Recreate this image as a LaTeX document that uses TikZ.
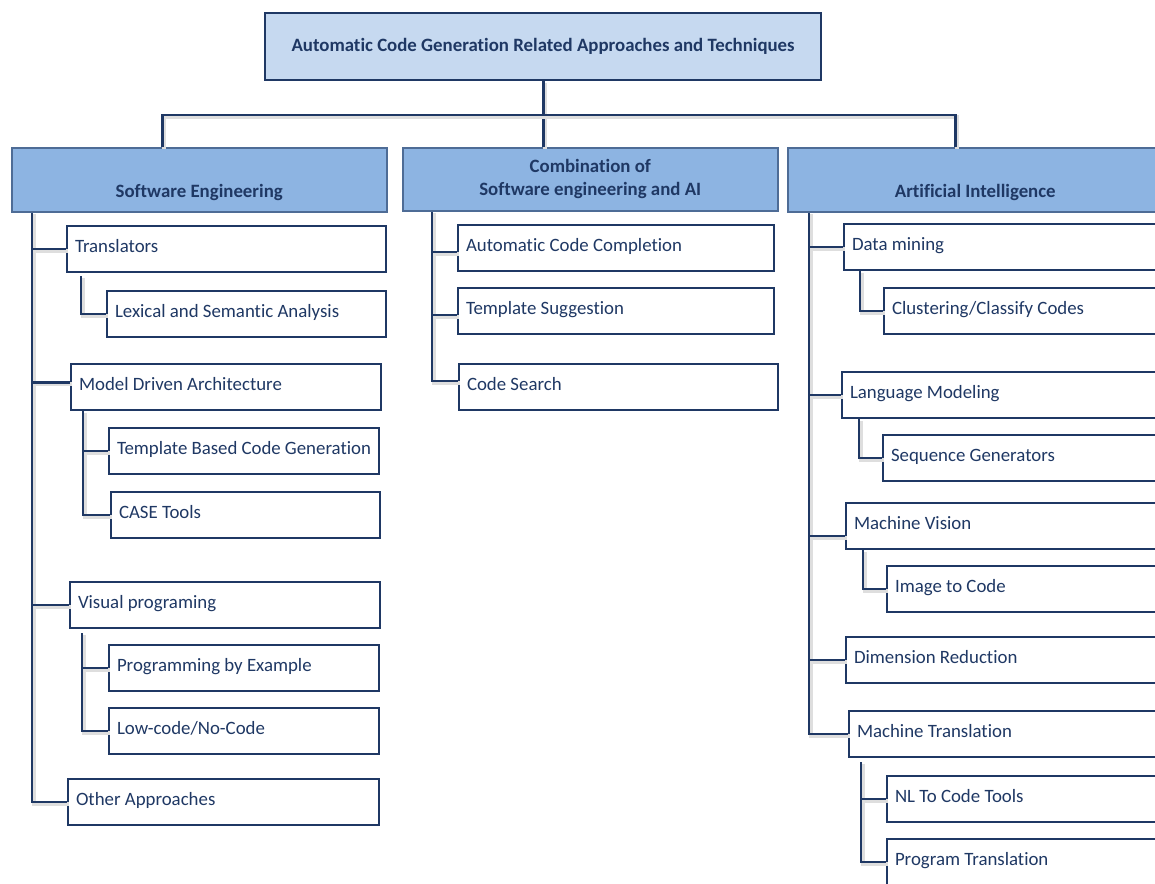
\documentclass[tikz,border=0pt]{standalone}
\usepackage{fontspec}
\setmainfont{Carlito}[Ligatures=NoCommon]
\usepackage{xcolor}
\usepackage{tikz}
\definecolor{navy}{RGB}{31,56,100}
\definecolor{catedge}{RGB}{78,108,150}
\definecolor{topfill}{RGB}{198,217,240}
\definecolor{catfill}{RGB}{141,180,226}
\newcommand{\boxfont}{\fontsize{11.3pt}{13.8pt}\selectfont}
\tikzset{
  root/.style={draw=navy,line width=1.3pt,fill=topfill,text=navy,minimum width=333.6pt,minimum height=40.2pt,anchor=north west,font=\boxfont\bfseries},
  cat/.style={draw=catedge,line width=0.9pt,fill=catfill,text=navy,minimum width=225pt,anchor=north west,inner ysep=0pt,align=center,font=\boxfont\bfseries},
  low/.style={text height=30pt,text depth=8.4pt},
  leaf/.style={draw=navy,line width=1.2pt,fill=white,text=navy,anchor=north west,inner xsep=4.8pt,inner ysep=0pt,minimum height=27.6pt,text depth=3.6pt,align=flush left,font=\boxfont},
  br/.style={draw=navy,line width=1.7pt,preaction={draw=black!13,line width=2.4pt,transform canvas={shift={(0.9pt,-0.9pt)}}}}
}
\newcommand{\leaf}[4]{\node[leaf,text width=#3pt] (#1) at (#2) {#4};}

\begin{document}
\begin{tikzpicture}[x=0.6pt,y=-0.6pt]
\useasboundingbox (0,0) rectangle (1155,883);
\clip (0,0) rectangle (1155,883);
\node[root] (top) at (264,12) {Automatic Code Generation Related Approaches and Techniques};
\node[cat,low] (se) at (11,147) {Software Engineering};
\node[cat,minimum height=37.8pt] (comb) at (402,147) {Combination of\\Software engineering and AI};
\node[cat,low] (ai) at (787,147) {Artificial Intelligence};
\leaf{trans}{66,225}{181.8}{Translators}
\leaf{lexi}{106,290}{157.8}{Lexical and Semantic Analysis}
\leaf{mda}{70,363}{176.4}{Model Driven Architecture}
\leaf{tbcg}{108,427}{152.4}{Template Based Code Generation}
\leaf{case}{110,491}{151.8}{CASE Tools}
\leaf{vis}{69,581}{176.4}{Visual programing}
\leaf{pbe}{108,644}{152.4}{Programming by Example}
\leaf{lowc}{108,707}{152.4}{Low-code/No-Code}
\leaf{other}{67,778}{177}{Other Approaches}
\leaf{acc}{457,224}{180}{Automatic Code Completion}
\leaf{tsug}{457,287}{180}{Template Suggestion}
\leaf{csearch}{458,363}{181.8}{Code Search}
\leaf{dmin}{843,223}{189.6}{Data mining}
\leaf{clus}{883,287}{165.6}{Clustering/Classify Codes}
\leaf{lmod}{841,371}{190.8}{Language Modeling}
\leaf{seqg}{882,434}{166.2}{Sequence Generators}
\leaf{mvis}{845,502}{188.4}{Machine Vision}
\leaf{imgc}{886,565}{163.8}{Image to Code}
\leaf{dimr}{845,636}{188.4}{Dimension Reduction}
\leaf{mtra}{848,710}{186.6}{Machine Translation}
\leaf{nlc}{886,775}{163.8}{NL To Code Tools}
\leaf{prog}{886,838}{163.8}{Program Translation}
\coordinate (bus) at (542,115);
\draw[br] (top.south) -- (top.south |- comb.north);
\draw[br] ([xshift=-21.9pt]se.north) |- (bus) -| ([xshift=-11.7pt]ai.north);
\coordinate (seT) at ([xshift=12.6pt]se.south west);
\draw[br] (seT) |- (trans.west) (seT) |- ([yshift=2.7pt]mda.west) (seT) |- (vis.west) (seT) |- (other.west);
\draw[br] ([xshift=9pt,yshift=-1.8pt]trans.south west) |- (lexi.west);
\draw[br] ([xshift=7.8pt]mda.south west) |- (tbcg.west) ([xshift=7.8pt]mda.south west) |- (case.west);
\draw[br] ([xshift=7.8pt,yshift=-2.4pt]vis.south west) |- (pbe.west) ([xshift=7.8pt,yshift=-2.4pt]vis.south west) |- (lowc.west);
\coordinate (combT) at ([xshift=18pt]comb.south west);
\draw[br] (combT) |- ([yshift=-2.4pt]acc.west) (combT) |- ([yshift=-2.4pt]tsug.west) (combT) |- ([yshift=3.6pt]csearch.west);
\coordinate (aiT) at ([xshift=13.2pt]ai.south west);
\draw[br] (aiT) |- (dmin.west) (aiT) |- (lmod.west) (aiT) |- ([yshift=-6pt]mvis.west) (aiT) |- (dimr.west) (aiT) |- (mtra.west);
\draw[br] ([xshift=10.2pt]dmin.south west) |- (clus.west);
\draw[br] ([xshift=10.8pt]lmod.south west) |- (seqg.west);
\draw[br] ([xshift=10.8pt]mvis.south west) |- (imgc.west);
\draw[br] ([xshift=7.8pt,yshift=-2.4pt]mtra.south west) |- (nlc.west) ([xshift=7.8pt,yshift=-2.4pt]mtra.south west) |- (prog.west);
\end{tikzpicture}
\end{document}
